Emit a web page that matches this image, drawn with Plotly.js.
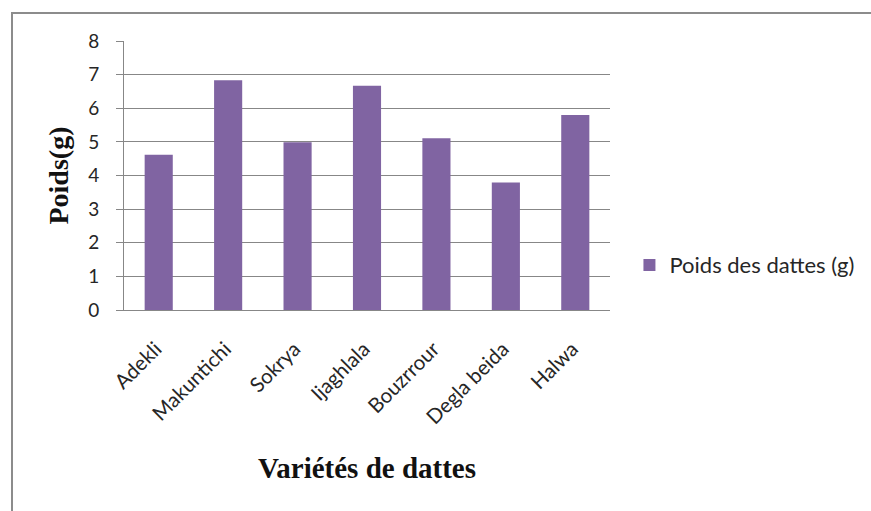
<!DOCTYPE html>
<html>
<head>
<meta charset="utf-8">
<script src="https://cdn.plot.ly/plotly-3.0.1.min.js"></script>
<style>
  html, body { margin: 0; padding: 0; background: #ffffff; }
  #wrap { position: relative; width: 871px; height: 511px; overflow: hidden; }
  #frame { position: absolute; left: 11px; top: 12px; width: 880px; height: 520px;
           border-left: 2px solid #8c8c8c; border-top: 2px solid #8c8c8c; pointer-events: none; }
  #chart { position: absolute; left: 0; top: 0; width: 871px; height: 511px; }
</style>
</head>
<body>
<div id="wrap">
  <div id="chart"></div>
  <div id="frame"></div>
</div>
<script>
// Date varieties and mean fruit weight (g)
const varietes = ["Adekli", "Makuntichi", "Sokrya", "Ijaghlala", "Bouzrrour", "Degla beida", "Halwa"];
const poids = [4.62, 6.83, 4.99, 6.67, 5.11, 3.79, 5.80];
const yTicks = [0, 1, 2, 3, 4, 5, 6, 7, 8];

const sans = "Lato, Open Sans, sans-serif";
const serif = "Liberation Serif, Times New Roman, serif";
const gridGrey = "#878787";

const trace = {
  type: "bar",
  x: varietes,
  y: poids,
  name: "Poids des dattes (g)",
  marker: { color: "#8064a2", line: { width: 0 } },
  hoverinfo: "x+y"
};

const layout = {
  width: 871,
  height: 511,
  margin: { l: 124, r: 261, t: 41, b: 201, pad: 0 },
  paper_bgcolor: "#ffffff",
  plot_bgcolor: "#ffffff",
  bargap: 0.595,
  showlegend: true,
  legend: {
    x: 1.04, y: 0.167, xanchor: "left", yanchor: "middle",
    font: { family: sans, size: 22, color: "#262626" },
    bgcolor: "rgba(0,0,0,0)"
  },
  xaxis: {
    type: "category",
    tickangle: -45,
    tickfont: { family: sans, size: 20.5, color: "#262626" },
    showline: true, linecolor: gridGrey, linewidth: 1,
    ticks: "", showgrid: false, zeroline: false,
    ticklabelstandoff: 18,
    ticklabelshift: -3,
    title: {
      text: "Variétés de dattes",
      font: { family: serif, size: 29, color: "#111111", weight: "bold" },
      standoff: 30
    }
  },
  yaxis: {
    range: [0, 8],
    tickvals: yTicks,
    ticktext: yTicks.map(String),
    tickfont: { family: sans, size: 19, color: "#262626" },
    showline: true, linecolor: gridGrey, linewidth: 1,
    ticks: "outside", ticklen: 7, tickcolor: gridGrey,
    ticklabelstandoff: 13,
    showgrid: true, gridcolor: gridGrey, gridwidth: 1,
    zeroline: false,
    title: {
      text: "Poids(g)",
      font: { family: serif, size: 28, color: "#111111", weight: "bold" },
      standoff: 11
    }
  }
};

Plotly.newPlot("chart", [trace], layout, { displayModeBar: false, staticPlot: true });
</script>
</body>
</html>
